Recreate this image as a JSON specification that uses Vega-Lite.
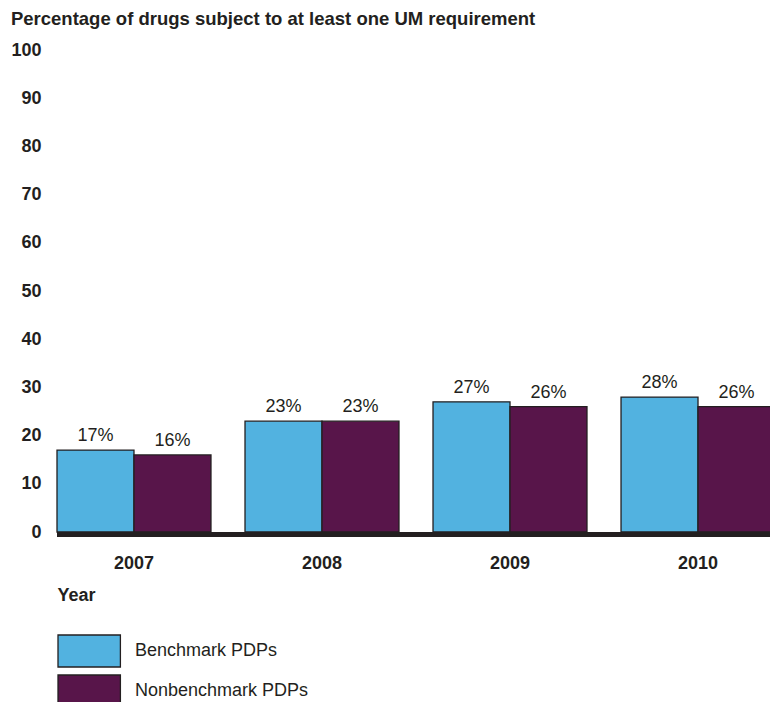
{
  "$schema": "https://vega.github.io/schema/vega-lite/v6.json",
  "width": 713,
  "height": 482,
  "padding": {"left": 10, "top": 9, "right": 0, "bottom": 0},
  "background": "white",
  "config": {
    "font": "Liberation Sans",
    "view": {"stroke": null}
  },
  "title": {
    "text": "Percentage of drugs subject to at least one UM requirement",
    "anchor": "start",
    "frame": "bounds",
    "fontSize": 18.5,
    "fontWeight": "bold",
    "color": "#231f20",
    "offset": 13
  },
  "data": {
    "values": [
      {"year": "2007", "series": "Benchmark PDPs", "value": 17},
      {"year": "2007", "series": "Nonbenchmark PDPs", "value": 16},
      {"year": "2008", "series": "Benchmark PDPs", "value": 23},
      {"year": "2008", "series": "Nonbenchmark PDPs", "value": 23},
      {"year": "2009", "series": "Benchmark PDPs", "value": 27},
      {"year": "2009", "series": "Nonbenchmark PDPs", "value": 26},
      {"year": "2010", "series": "Benchmark PDPs", "value": 28},
      {"year": "2010", "series": "Nonbenchmark PDPs", "value": 26}
    ]
  },
  "encoding": {
    "x": {
      "field": "year",
      "type": "nominal",
      "scale": {"paddingInner": 0.181, "paddingOuter": 0, "range": [0, 718]},
      "axis": {
        "title": "Year",
        "titleAnchor": "start",
        "titleAlign": "left",
        "titleFontSize": 18,
        "titleFontWeight": "bold",
        "titleColor": "#231f20",
        "titlePadding": 14,
        "labelAngle": 0,
        "labelFontSize": 18,
        "labelFontWeight": "bold",
        "labelColor": "#231f20",
        "labelPadding": 22,
        "ticks": false,
        "domain": false
      }
    },
    "xOffset": {"field": "series", "type": "nominal", "scale": {"paddingInner": 0, "paddingOuter": 0}},
    "y": {
      "field": "value",
      "type": "quantitative",
      "scale": {"domain": [0, 100]},
      "axis": {
        "title": null,
        "values": [0, 10, 20, 30, 40, 50, 60, 70, 80, 90, 100],
        "labelFontSize": 18,
        "labelFontWeight": "bold",
        "labelColor": "#231f20",
        "labelPadding": 16,
        "ticks": false,
        "domain": false,
        "grid": false
      }
    }
  },
  "layer": [
    {
      "mark": {"type": "bar", "stroke": "#231f20", "strokeWidth": 1.3},
      "encoding": {
        "color": {
          "field": "series",
          "type": "nominal",
          "scale": {"domain": ["Benchmark PDPs", "Nonbenchmark PDPs"], "range": ["#52b2e0", "#58154a"]},
          "legend": {
            "title": null,
            "orient": "none",
            "legendX": 0,
            "legendY": 584,
            "padding": 0,
            "symbolType": "M-1,-1H2.9V1H-1Z",
            "symbolSize": 1024,
            "symbolStrokeColor": "#231f20",
            "symbolStrokeWidth": 1.3,
            "symbolFillColor": null,
            "rowPadding": 2,
            "labelFontSize": 18,
            "labelColor": "#231f20",
            "labelOffset": 44,
            "labelLimit": 400
          }
        }
      }
    },
    {
      "mark": {"type": "text", "baseline": "bottom", "dy": -5, "fontSize": 18, "color": "#231f20", "text": {"expr": "datum.value + '%'"}},
      "encoding": {
        "detail": {"field": "series"}
      }
    },
    {
      "mark": {"type": "rule", "color": "#231f20", "strokeWidth": 5, "yOffset": 2.5},
      "encoding": {
        "y": {"datum": 0},
        "x": null,
        "xOffset": null
      }
    }
  ]
}
